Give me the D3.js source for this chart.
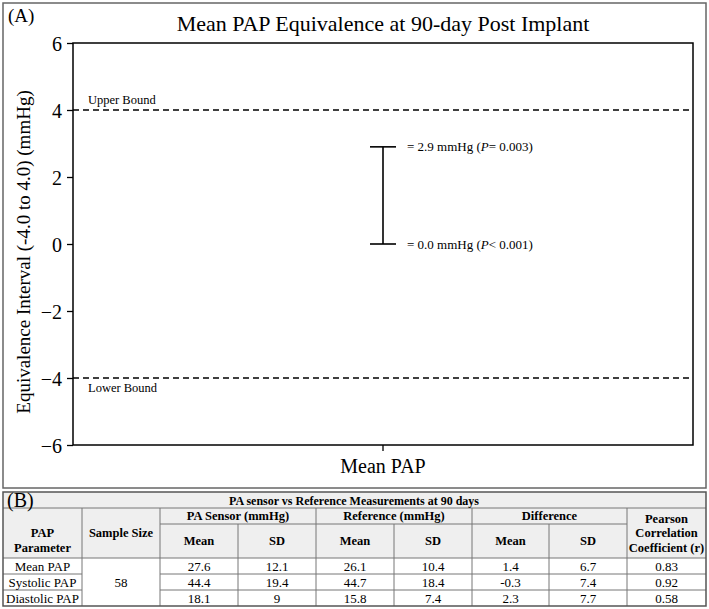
<!DOCTYPE html>
<html>
<head>
<meta charset="utf-8">
<script src="https://cdn.jsdelivr.net/npm/d3@7"></script>
<style>
  body { margin: 0; background: #fff; }
  svg { font-family: "Liberation Serif", "Times New Roman", serif; }
</style>
</head>
<body>
<svg id="chart" width="709" height="609"></svg>
<script>
// ---- data ----
const categories = ['Mean PAP'];
const ciLower = [0.0];
const ciUpper = [2.9];
const pLower = ['< 0.001'];
const pUpper = ['= 0.003'];
const bounds = [4, -4];
const boundLabels = ['Upper Bound', 'Lower Bound'];
const yTicks = [-6, -4, -2, 0, 2, 4, 6];

const params = ['Mean PAP', 'Systolic PAP', 'Diastolic PAP'];
const sampleSize = 58;
const sensorMean = ['27.6', '44.4', '18.1'];
const sensorSD = ['12.1', '19.4', '9'];
const refMean = ['26.1', '44.7', '15.8'];
const refSD = ['10.4', '18.4', '7.4'];
const diffMean = ['1.4', '-0.3', '2.3'];
const diffSD = ['6.7', '7.4', '7.7'];
const pearson = ['0.83', '0.92', '0.58'];

const svg = d3.select('#chart');

// ---- panel A ----
svg.append('rect')
    .attr('x', 3).attr('y', 3).attr('width', 703).attr('height', 485)
    .attr('fill', 'none').attr('stroke', '#666').attr('stroke-width', 1.5);

svg.append('text').attr('x', 8).attr('y', 22)
    .attr('font-size', 19).text('(A)');

svg.append('text').attr('x', 383).attr('y', 31)
    .attr('text-anchor', 'middle').attr('font-size', 22)
    .text('Mean PAP Equivalence at 90-day Post Implant');

const m = {left: 73, right: 693, top: 43, bottom: 445};
const x = d3.scaleBand().domain(categories).range([m.left, m.right]);
const y = d3.scaleLinear().domain([-6, 6]).range([m.bottom, m.top]);

const g = svg.append('g');

g.append('rect')
    .attr('x', m.left).attr('y', m.top)
    .attr('width', m.right - m.left).attr('height', m.bottom - m.top)
    .attr('fill', 'none').attr('stroke', '#000').attr('stroke-width', 1.5);

const yAxis = g.append('g')
    .attr('transform', `translate(${m.left},0)`)
    .call(d3.axisLeft(y).tickValues(yTicks).tickSize(6).tickPadding(5).tickFormat(d3.format('d')));
yAxis.select('.domain').remove();
yAxis.selectAll('line').attr('stroke-width', 1.3);
yAxis.selectAll('text').attr('font-size', 20).attr('font-family', 'Liberation Serif').attr('dy', '0.35em');

const xAxis = g.append('g')
    .attr('transform', `translate(0,${m.bottom})`)
    .call(d3.axisBottom(x).tickSize(6).tickPadding(8));
xAxis.select('.domain').remove();
xAxis.selectAll('line').attr('stroke-width', 1.3);
xAxis.selectAll('text').attr('font-size', 20).attr('font-family', 'Liberation Serif');

svg.append('text')
    .attr('transform', 'translate(30,252) rotate(-90)')
    .attr('text-anchor', 'middle').attr('font-size', 19)
    .text('Equivalence Interval (-4.0 to 4.0) (mmHg)');

// bounds
bounds.forEach((b, i) => {
  g.append('line')
      .attr('x1', m.left).attr('x2', m.right)
      .attr('y1', y(b)).attr('y2', y(b))
      .attr('stroke', '#000').attr('stroke-width', 1.6)
      .attr('stroke-dasharray', '6,4');
  g.append('text')
      .attr('x', m.left + 15)
      .attr('y', i === 0 ? y(b) - 6 : y(b) + 14)
      .attr('font-size', 12.5)
      .text(boundLabels[i]);
});

// error bar
categories.forEach((c, i) => {
  const cx = x(c) + x.bandwidth() / 2;
  const cap = 13;
  g.append('line').attr('x1', cx).attr('x2', cx)
      .attr('y1', y(ciUpper[i])).attr('y2', y(ciLower[i]))
      .attr('stroke', '#000').attr('stroke-width', 1.6);
  [ciUpper[i], ciLower[i]].forEach(v => {
    g.append('line').attr('x1', cx - cap).attr('x2', cx + cap)
        .attr('y1', y(v)).attr('y2', y(v))
        .attr('stroke', '#000').attr('stroke-width', 1.6);
  });
  const lab = (v, p) => {
    const t = g.append('text').attr('x', cx + 24).attr('y', y(v) + 4.5).attr('font-size', 13);
    t.append('tspan').text('= ' + v.toFixed(1) + ' mmHg (');
    t.append('tspan').attr('font-style', 'italic').text('P');
    t.append('tspan').text(p + ')');
  };
  lab(ciUpper[i], pUpper[i]);
  lab(ciLower[i], pLower[i]);
});

// ---- panel B: table ----
const tb = svg.append('g');
const tTop = 492, tLeft = 3, tRight = 706;
const rowY = [492, 508, 524, 558, 574, 590, 606];
const colX = [3, 82, 160, 238, 316, 394, 472, 549, 627, 706];
const headBg = '#efefef', lineCol = '#777';

tb.append('rect').attr('x', tLeft).attr('y', tTop)
    .attr('width', tRight - tLeft).attr('height', rowY[3] - tTop).attr('fill', headBg);
tb.append('rect').attr('x', tLeft).attr('y', rowY[3])
    .attr('width', tRight - tLeft).attr('height', rowY[6] - rowY[3]).attr('fill', '#fff');

const hline = (x1, x2, yy) => tb.append('line').attr('x1', x1).attr('x2', x2)
    .attr('y1', yy).attr('y2', yy).attr('stroke', lineCol).attr('stroke-width', 1);
const vline = (xx, y1, y2) => tb.append('line').attr('x1', xx).attr('x2', xx)
    .attr('y1', y1).attr('y2', y2).attr('stroke', lineCol).attr('stroke-width', 1);

hline(tLeft, tRight, rowY[1]);
hline(colX[2], colX[8], rowY[2]);
hline(tLeft, tRight, rowY[3]);
hline(tLeft, colX[1], rowY[4]); hline(colX[2], tRight, rowY[4]);
hline(tLeft, colX[1], rowY[5]); hline(colX[2], tRight, rowY[5]);
[1, 2, 4, 6, 8].forEach(i => vline(colX[i], rowY[1], rowY[6]));
[3, 5, 7].forEach(i => vline(colX[i], rowY[2], rowY[6]));
tb.append('rect').attr('x', tLeft).attr('y', tTop)
    .attr('width', tRight - tLeft).attr('height', rowY[6] - tTop)
    .attr('fill', 'none').attr('stroke', '#555').attr('stroke-width', 1.5);

const cell = (txt, cx, cy, bold, size) => tb.append('text')
    .attr('x', cx).attr('y', cy).attr('text-anchor', 'middle')
    .attr('dominant-baseline', 'central')
    .attr('font-size', size || 12.5).attr('font-weight', bold ? 'bold' : 'normal')
    .text(txt);

tb.append('text').attr('x', 7).attr('y', 507).attr('font-size', 20).text('(B)');
cell('PA sensor vs Reference Measurements at 90 days', 354, 500.5, true, 12);

const mid = (a, b) => (a + b) / 2;
cell('PAP', mid(colX[0], colX[1]), 533, true);
cell('Parameter', mid(colX[0], colX[1]), 548, true);
cell('Sample Size', mid(colX[1], colX[2]), mid(rowY[1], rowY[3]), true);
cell('PA Sensor (mmHg)', mid(colX[2], colX[4]), mid(rowY[1], rowY[2]), true);
cell('Reference (mmHg)', mid(colX[4], colX[6]), mid(rowY[1], rowY[2]), true);
cell('Difference', mid(colX[6], colX[8]), mid(rowY[1], rowY[2]), true);
cell('Pearson', mid(colX[8], colX[9]), 519, true);
cell('Correlation', mid(colX[8], colX[9]), 533, true);
cell('Coefficient (r)', mid(colX[8], colX[9]), 548, true);
['Mean', 'SD', 'Mean', 'SD', 'Mean', 'SD'].forEach((h, i) =>
  cell(h, mid(colX[i + 2], colX[i + 3]), mid(rowY[2], rowY[3]), true));

cell(String(sampleSize), mid(colX[1], colX[2]), mid(rowY[3], rowY[6]), false, 13);
const cols = [sensorMean, sensorSD, refMean, refSD, diffMean, diffSD, pearson];
params.forEach((p, r) => {
  const cy = mid(rowY[r + 3], rowY[r + 4]);
  cell(p, mid(colX[0], colX[1]), cy, false, 13);
  cols.forEach((col, c) => cell(col[r], mid(colX[c + 2], colX[c + 3]), cy, false, 13));
});
</script>
</body>
</html>
